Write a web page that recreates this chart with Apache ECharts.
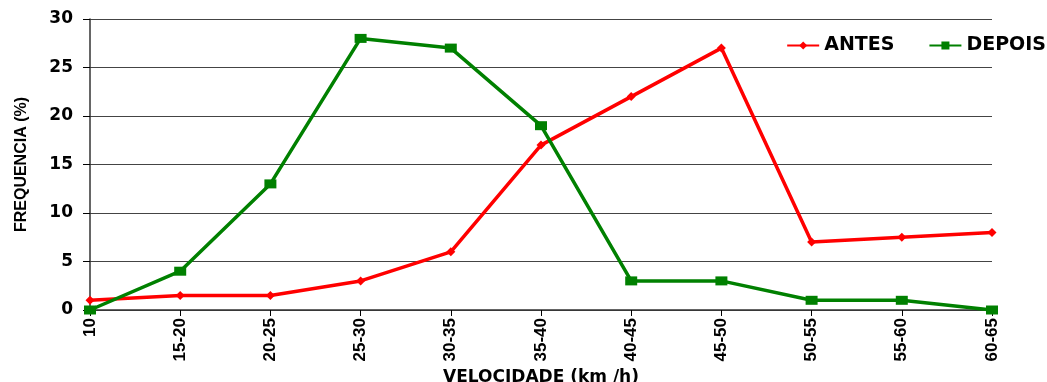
<!DOCTYPE html>
<html><head><meta charset="utf-8">
<script src="https://cdn.jsdelivr.net/npm/echarts@6/dist/echarts.min.js"></script>
<style>html,body{margin:0;padding:0;background:#fff}#c{width:1047px;height:382px}</style>
</head><body><div id="c"></div>
<script>
const categories = ['10','15-20','20-25','25-30','30-35','35-40','40-45','45-50','50-55','55-60','60-65'];
const antes = [1,1.5,1.5,3,6,17,22,27,7,7.5,8];
const depois = [0,4,13,28,27,19,3,3,1,1,0];
const yTicks = {min:0,max:30,interval:5};
const chart = echarts.init(document.getElementById('c'));
const narrow = '"Liberation Sans Narrow","Arial Narrow","Liberation Sans",Arial,sans-serif';
const wide = '"DejaVu Sans",Verdana,sans-serif';
chart.setOption({
  animation:false,
  grid:{left:90,right:55,top:19,bottom:72,outerBoundsMode:'none',containLabel:false},
  legend:{right:-4,top:31,itemWidth:32,itemHeight:10,itemGap:34,
    textStyle:{fontFamily:wide,fontWeight:'bold',fontSize:19,color:'#000'},
    data:['ANTES','DEPOIS']},
  xAxis:{type:'category',data:categories,boundaryGap:false,
    name:'VELOCIDADE (km /h)',nameLocation:'middle',nameGap:58,
    nameTextStyle:{fontFamily:wide,fontWeight:'bold',fontSize:17,color:'#000'},
    axisLine:{lineStyle:{color:'#333',width:1.5}},
    axisTick:{show:true,alignWithLabel:true,length:6,lineStyle:{color:'#000'}},
    axisLabel:{rotate:90,margin:8,fontFamily:narrow,fontWeight:'bold',fontSize:17,color:'#000'},
    splitLine:{show:false}},
  yAxis:{type:'value',min:yTicks.min,max:yTicks.max,interval:yTicks.interval,
    name:'FREQUENCIA (%)',nameLocation:'middle',nameGap:60,
    nameTextStyle:{fontFamily:narrow,fontWeight:'bold',fontSize:16,color:'#000'},
    axisLine:{show:true,lineStyle:{color:'#333',width:1.5}},
    axisTick:{show:true,length:7,lineStyle:{color:'#000'}},
    axisLabel:{margin:17,fontFamily:wide,fontWeight:'bold',fontSize:17,color:'#000'},
    splitLine:{lineStyle:{color:'#444',width:1}}},
  series:[
    {name:'ANTES',type:'line',data:antes,symbol:'diamond',symbolSize:9,
     lineStyle:{color:'#ff0000',width:3.5},itemStyle:{color:'#ff0000'},z:3},
    {name:'DEPOIS',type:'line',data:depois,symbol:'rect',symbolSize:[12,9],
     lineStyle:{color:'#008000',width:3.5},itemStyle:{color:'#008000'},z:4}
  ]
});
</script></body></html>
